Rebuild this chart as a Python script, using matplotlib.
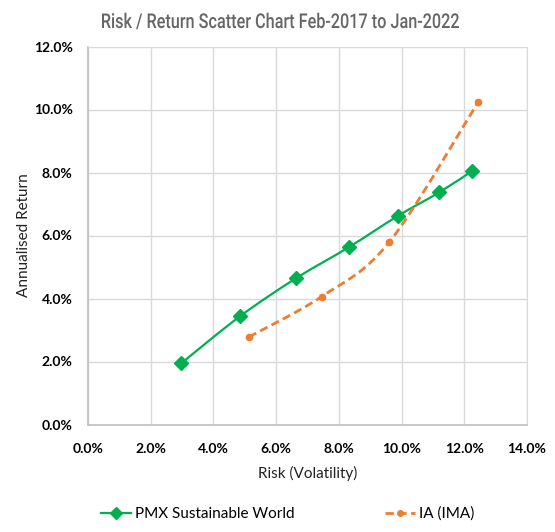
import matplotlib
matplotlib.use("Agg")
import matplotlib.pyplot as plt
from matplotlib.path import Path
from matplotlib.patches import PathPatch
from matplotlib.lines import Line2D
from matplotlib.ticker import FuncFormatter
from matplotlib.textpath import TextPath
from matplotlib.font_manager import FontProperties
from matplotlib.transforms import Affine2D
import numpy as np

# Data
pmx_risk = [2.97, 4.84, 6.63, 8.32, 9.88, 11.20, 12.24]
pmx_return = [1.94, 3.43, 4.64, 5.63, 6.62, 7.37, 8.04]
ia_risk = [5.13, 7.45, 9.60, 12.44]
ia_return = [2.78, 4.06, 5.78, 10.23]
x_ticks = [0, 2, 4, 6, 8, 10, 12, 14]
y_ticks = [0, 2, 4, 6, 8, 10, 12]
title = "Risk / Return Scatter Chart Feb-2017 to Jan-2022"

GREEN = "#00B050"
ORANGE = "#ED7D31"

plt.rcParams["font.family"] = ["Lato", "DejaVu Sans"]

W, H = 555, 532
fig = plt.figure(figsize=(W / 100, H / 100), dpi=100)
ax = fig.add_axes([88 / W, 1 - 424.5 / H, 439 / W, 378 / H])


def smooth_path(xs, ys):
    pts = np.column_stack([xs, ys]).astype(float)
    n = len(pts)
    verts = [pts[0]]
    codes = [Path.MOVETO]
    for i in range(n - 1):
        p0 = pts[i - 1] if i > 0 else pts[i]
        p1 = pts[i]
        p2 = pts[i + 1]
        p3 = pts[i + 2] if i + 2 < n else pts[i + 1]
        c1 = p1 + (p2 - p0) / 6.0
        c2 = p2 - (p3 - p1) / 6.0
        verts += [c1, c2, p2]
        codes += [Path.CURVE4] * 3
    return Path(verts, codes)


ax.add_patch(PathPatch(smooth_path(pmx_risk, pmx_return), fill=False,
                       edgecolor=GREEN, lw=1.6, zorder=3))
ax.plot(pmx_risk, pmx_return, linestyle="none", marker="D", color=GREEN,
        markersize=7, zorder=4)
ax.add_patch(PathPatch(smooth_path(ia_risk, ia_return), fill=False,
                       edgecolor=ORANGE, lw=2.0, linestyle=(0, (3, 1.6)), zorder=3))
ax.plot(ia_risk, ia_return, linestyle="none", marker="o", color=ORANGE,
        markersize=4.5, zorder=4)

ax.set_xlim(0, 14)
ax.set_ylim(0, 12)
ax.set_xticks(x_ticks)
ax.set_yticks(y_ticks)
fmt = FuncFormatter(lambda v, p: f"{v:.1f}%")
ax.xaxis.set_major_formatter(fmt)
ax.yaxis.set_major_formatter(fmt)
ax.grid(True, color="#D9D9D9", lw=1.0)
ax.set_axisbelow(True)
for s in ["top", "right"]:
    ax.spines[s].set_color("#D9D9D9")
for s in ["left", "bottom"]:
    ax.spines[s].set_color("#BFBFBF")
    ax.spines[s].set_linewidth(1.2)
ax.tick_params(length=0)
ax.tick_params(axis="y", pad=11)
ax.tick_params(axis="x", pad=13)
for lab in ax.get_xticklabels() + ax.get_yticklabels():
    lab.set_fontweight("bold")
    lab.set_fontsize(10)
    lab.set_color("#000000")

ax.set_xlabel("Risk (Volatility)", fontsize=11, color="#222222", labelpad=8)
ax.set_ylabel("Annualised Return", fontsize=11, color="#222222", labelpad=2)

# Condensed title: text path scaled horizontally (pixel coordinates)
tp = TextPath((0, 0), title, size=20, prop=FontProperties(family="Roboto", weight="medium"))
bb = tp.get_extents()
target_w, target_cap = 357.0, 14.5
sy = target_cap / 14.2
sx = target_w / bb.width
cx, cy = 280.5, H - 28.0
tr = Affine2D().translate(-bb.x0 - bb.width / 2, 0).scale(sx, sy).translate(cx, cy)
fig.patches.append(PathPatch(tr.transform_path(tp), facecolor="#666666", edgecolor="none",
                             transform=None, figure=fig))

h1 = Line2D([], [], color=GREEN, lw=1.6, marker="D", markersize=6)
h2 = Line2D([], [], color=ORANGE, lw=2.0, linestyle=(0, (3, 1.6)), marker="o", markersize=4)
fig.legend([h1, h2], ["PMX Sustainable World", "IA (IMA)"], loc="center",
           bbox_to_anchor=(287.5 / W, 1 - 514 / H), ncol=2, frameon=False,
           fontsize=11, handlelength=2.0, handletextpad=0.25, columnspacing=5.9)

fig.savefig("out.png", dpi=100, facecolor="white")
